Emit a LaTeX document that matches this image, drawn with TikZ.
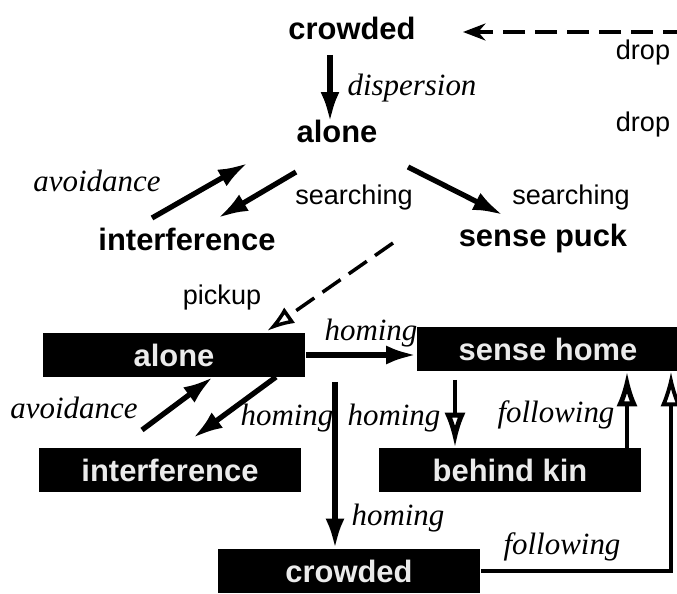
\documentclass[tikz,border=0pt]{standalone}
\usepackage{fontspec}
\setmainfont{Liberation Serif}
\setsansfont{Liberation Sans}
\usepackage{tikz}
\usetikzlibrary{arrows.meta, positioning}

\begin{document}
\begin{tikzpicture}[
  x=0.02cm, y=-0.02cm,
  state/.style={font=\sffamily\bfseries\fontsize{17.6}{20}\selectfont, inner sep=0pt},
  dark/.style={state, fill=black, text=white!92!black, minimum width=5.26cm, minimum height=0.88cm},
  lbl/.style={font=\itshape\fontsize{17.6}{20}\selectfont, inner sep=0pt},
  tag/.style={font=\sffamily\fontsize{15.4}{18}\selectfont, inner sep=0pt},
  arrow/.style={line width=3pt, -{Latex[length=0.6cm,width=0.38cm]}},
  hollow/.style={line width=2.8pt, -{Latex[open,length=0.7cm,width=0.42cm]}},
  dashline/.style={line width=2pt, dash pattern=on 0.44cm off 0.2cm}
]
\useasboundingbox (0,0) rectangle (677,594);
\clip (0,0) rectangle (677,594);

% Nodes
\node[state] (crowdedT) at (352,28) {crowded};
\node[state] (aloneT) at (337,131) {alone};
\node[state] (interT) at (187,239) {interference};
\node[state] (puckT) at (543,239) {sense puck};

\node[dark] (aloneB) at (174,355) {alone};
\node[dark] (shome) at (548,349) {sense home};
\node[dark] (interB) at (170,470) {interference};
\node[dark] (kinB) at (510,470) {behind kin};
\node[dark] (crowdedB) at (349,571) {crowded};

\coordinate (split) at (335,382);

% Labels
\node[lbl] (l1) at (412,88) {dispersion};
\node[lbl] (l2) at (97,181) {avoidance};
\node[tag] (l3) at (354,198) {searching};
\node[tag] (l4) at (571,198) {searching};
\node[tag] (l5) at (643,53) {drop};
\node[tag] (l6) at (643,125) {drop};
\node[tag] (l7) at (222,298) {pickup};
\node[lbl] (l8) at (371,333) {homing};
\node[lbl] (l9) at (74,408) {avoidance};
\node[lbl] (l10) at (287,418) {homing};
\node[lbl] (l11) at (394,418) {homing};
\node[lbl] (l12) at (556,415) {following};
\node[lbl] (l13) at (398,518) {homing};
\node[lbl] (l14) at (562,547) {following};

% Pointers
\draw[arrow] ([shift={(-22,27)}]crowdedT.center) -- ([shift={(-7,-9)}]aloneT.center);
\draw[arrow] ([shift={(-35,-21)}]interT.center) -- ([shift={(-89,32)}]aloneT.center);
\draw[arrow] ([shift={(-41,41)}]aloneT.center) -- ([shift={(31,-21)}]interT.center);
\draw[arrow] ([shift={(71,36)}]aloneT.center) -- ([shift={(-40,-24)}]puckT.center);
\draw[dashline, -{Latex[open,length=0.55cm,width=0.38cm]}] ([shift={(-150,4)}]puckT.center) -- ([shift={(93,-24)}]aloneB.center);
\draw[dashline, -{Stealth[length=0.45cm,width=0.34cm]}] ([xshift=-0.03cm]shome.north east) |- ([shift={(111,4)}]crowdedT.center);

\draw[arrow] (aloneB.east) -- (aloneB.east -| shome.west);
\draw[arrow] ([shift={(102,22)}]aloneB.center) -- ([shift={(23,-32)}]interB.center);
\draw[arrow] ([shift={(-28,-40)}]interB.center) -- ([shift={(39,22)}]aloneB.center);
\draw[arrow] (split) -- (split |- crowdedB.north);
\draw[hollow] ([shift={(-93,31)}]shome.center) -- ([shift={(-55,0)}]kinB.north);
\draw[hollow] ([shift={(117,0)}]kinB.north) -- ([shift={(79,0)}]shome.south);
\draw[hollow, line width=2.2pt] (crowdedB.east) -| ([shift={(123,0)}]shome.south);

\end{tikzpicture}
\end{document}
